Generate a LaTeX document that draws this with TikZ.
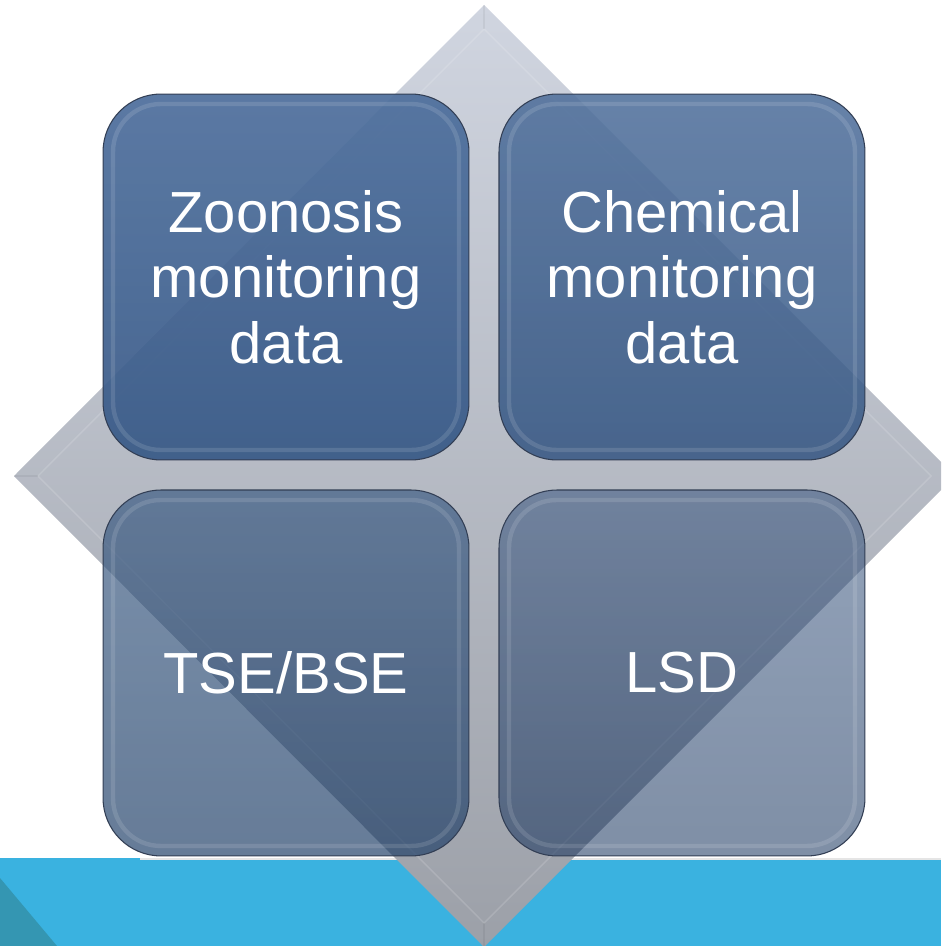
\documentclass[tikz,border=0pt]{standalone}
\usepackage{fontspec}
\setmainfont{Liberation Sans}
\usetikzlibrary{positioning}

\definecolor{bandblue}{RGB}{58,178,224}
\definecolor{banddark}{RGB}{52,150,178}
\definecolor{diamondtop}{RGB}{208,213,224}
\definecolor{diamondmid}{RGB}{196,200,210}
\definecolor{diamondbot}{RGB}{156,160,168}
\definecolor{tileedge}{RGB}{50,62,84}
\definecolor{tileA}{RGB}{62,98,148}
\definecolor{tileB}{RGB}{60,96,145}
\definecolor{tileC}{RGB}{34,70,116}
\definecolor{tileD}{RGB}{22,56,106}

\tikzset{
  tile/.style={draw=tileedge, line width=0.6pt, rounded corners=1.16cm,
    minimum width=7.32cm, minimum height=7.32cm, inner sep=0pt,
    align=center, text=white, text opacity=1,
    font=\fontsize{33}{37.4}\selectfont,
    path picture={
      \shade[top color=white, bottom color=black, fill opacity=0.08]
        (path picture bounding box.north west) rectangle (path picture bounding box.south east);
      \draw[draw=white, draw opacity=0.12, line width=2.5pt, rounded corners=0.95cm]
        ([shift={(10,10)}]path picture bounding box.north west)
        rectangle ([shift={(-10,-10)}]path picture bounding box.south east);
    }},
}

\begin{document}
\begin{tikzpicture}[x=0.02cm, y=-0.02cm]
    \useasboundingbox (0,0) rectangle (941,946);
    \clip (0,0) rectangle (941,946);

    % 1. Dải màu xanh phía dưới
    \fill[bandblue] (0,858) rectangle (941,946);
    \fill[banddark] (0,878) -- (57,946) -- (0,946) -- cycle;
    \draw[gray!20, line width=1pt] (140,859) -- (941,859);

    % 2. Hình thoi nền
    \shade[top color=diamondtop, middle color=diamondmid, bottom color=diamondbot]
        (484,5) -- (955,476) -- (484,947) -- (14,476) -- cycle;
    \draw[white, opacity=0.15, line width=0.8pt]
        (484,29) -- (931,476) -- (484,923) -- (38,476) -- cycle;
    \draw[black, opacity=0.05, line width=0.8pt]
        (484,5) -- (484,29) (14,476) -- (38,476) (484,947) -- (484,923);

    % 3. Bốn ô vuông
    \node[tile, fill=tileA, fill opacity=0.92] (zoonosis) at (286,277) {Zoonosis\\monitoring\\data};
    \node[tile, fill=tileB, fill opacity=0.85, right=0.58cm of zoonosis] (chemical) {Chemical\\monitoring\\data};
    \node[tile, fill=tileC, fill opacity=0.65, below=0.58cm of zoonosis] (tse) {TSE/BSE};
    \node[tile, fill=tileD, fill opacity=0.5, below=0.58cm of chemical] (lsd) {LSD};

\end{tikzpicture}
\end{document}
